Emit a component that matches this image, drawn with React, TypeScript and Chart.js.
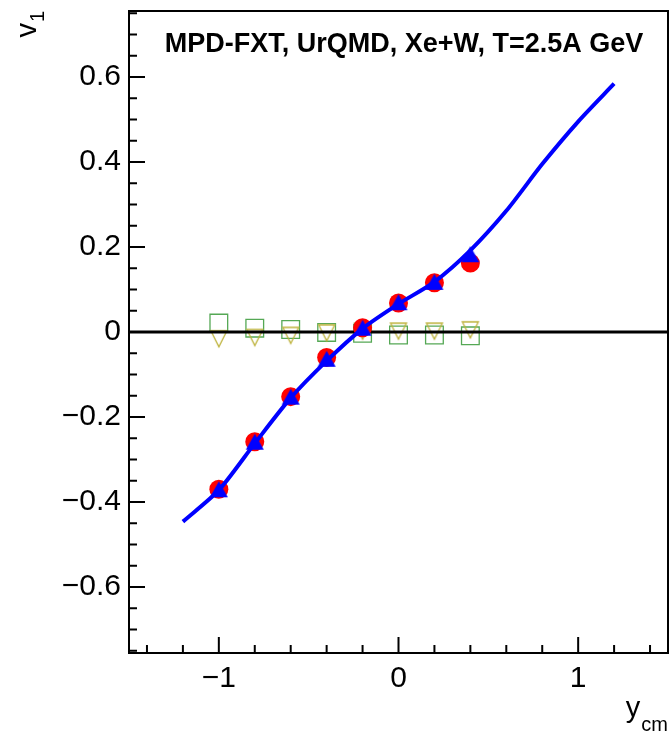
import React, { useEffect, useRef } from "react";
import { Chart, registerables } from "chart.js";
Chart.register(...registerables);

// ---- data ----
const rapidity = [-1.0, -0.8, -0.6, -0.4, -0.2, 0.0, 0.2, 0.4];
const redCircles = [-0.370, -0.258, -0.152, -0.060, 0.010, 0.068, 0.116, 0.162];
const blueTriangles = [-0.370, -0.258, -0.152, -0.063, 0.010, 0.070, 0.118, 0.183];
const greenSquares = [0.021, 0.009, 0.006, -0.001, -0.003, -0.007, -0.007, -0.009];
const yellowTriangles = [-0.016, -0.013, -0.008, -0.002, 0.002, 0.002, 0.002, 0.005];
const modelX = [-1.2, -1.0, -0.8, -0.6, -0.4, -0.2, 0.0, 0.2, 0.4, 0.6, 0.8, 1.0, 1.2];
const modelY = [-0.446, -0.372, -0.262, -0.155, -0.068, 0.008, 0.066, 0.118, 0.192, 0.285, 0.395, 0.495, 0.584];
const zeroLineX = [-1.5, 1.5];
const xTickLabels = [-1, 0, 1];
const yTickLabels = [-0.6, -0.4, -0.2, 0, 0.2, 0.4, 0.6];
const titleText = "MPD-FXT, UrQMD, Xe+W, T=2.5A GeV";

const FONT = "'Liberation Sans', Arial, Helvetica, sans-serif";
const AREA = { left: 129, right: 668, top: 11, bottom: 653 };

function fmt(v: number): string {
  const r = Math.round(v * 10) / 10;
  if (Math.abs(r) < 1e-9) return "0";
  const s = Math.abs(r).toString();
  return r < 0 ? "\u2212" + s : s;
}

function triangleMarker(w: number, h: number, color: string, filled: boolean, down: boolean) {
  const c = document.createElement("canvas");
  const pad = 3;
  c.width = w + pad * 2;
  c.height = h + pad * 2;
  const ctx = c.getContext("2d")!;
  const cx = c.width / 2;
  const cy = c.height / 2;
  ctx.beginPath();
  if (down) {
    ctx.moveTo(cx - w / 2, cy - h / 2);
    ctx.lineTo(cx + w / 2, cy - h / 2);
    ctx.lineTo(cx, cy + h / 2);
  } else {
    ctx.moveTo(cx - w / 2, cy + h / 2);
    ctx.lineTo(cx + w / 2, cy + h / 2);
    ctx.lineTo(cx, cy - h / 2);
  }
  ctx.closePath();
  if (filled) {
    ctx.fillStyle = color;
    ctx.fill();
  } else {
    ctx.strokeStyle = color;
    ctx.lineWidth = 1.3;
    ctx.stroke();
  }
  return c;
}

const framePlugin = {
  id: "rootFrame",
  afterDraw(chart: any) {
    const { ctx, chartArea } = chart;
    const xs = chart.scales.x;
    const ys = chart.scales.y;
    const { left, right, top, bottom } = chartArea;
    ctx.save();
    ctx.strokeStyle = "#000";
    ctx.lineWidth = 2;
    ctx.strokeRect(left, top, right - left, bottom - top);
    ctx.beginPath();
    for (let i = -7; i <= 7; i++) {
      const v = i * 0.2;
      const major = i % 5 === 0;
      const px = xs.getPixelForValue(v);
      ctx.moveTo(px, bottom);
      ctx.lineTo(px, bottom - (major ? 16 : 8));
    }
    for (let i = -15; i <= 15; i++) {
      const v = i * 0.05;
      const major = i % 4 === 0;
      const py = ys.getPixelForValue(v);
      if (py < top + 1 || py > bottom - 1) continue;
      ctx.moveTo(left, py);
      ctx.lineTo(left + (major ? 16 : 8), py);
    }
    ctx.stroke();

    // title
    ctx.fillStyle = "#000";
    ctx.font = `bold 27px ${FONT}`;
    ctx.textAlign = "center";
    ctx.textBaseline = "alphabetic";
    ctx.fillText(titleText, 404, 52);

    // x axis title y_cm
    ctx.textAlign = "right";
    ctx.font = `20px ${FONT}`;
    const wcm = ctx.measureText("cm").width;
    ctx.fillText("cm", 668, 731);
    ctx.font = `29px ${FONT}`;
    ctx.fillText("y", 668 - wcm - 1, 717);

    // y axis title v_1 (rotated)
    ctx.translate(36, 11);
    ctx.rotate(-Math.PI / 2);
    ctx.textAlign = "right";
    ctx.font = `20px ${FONT}`;
    const w1 = ctx.measureText("1").width;
    ctx.fillText("1", 0, 8);
    ctx.font = `29px ${FONT}`;
    ctx.fillText("v", -w1 - 1, 0);
    ctx.restore();
  },
};

const zeroPadding = (s: any) => {
  s.paddingTop = 0;
  s.paddingBottom = 0;
  s.paddingLeft = 0;
  s.paddingRight = 0;
};

export default function App() {
  const ref = useRef<HTMLCanvasElement | null>(null);
  useEffect(() => {
    document.body.style.margin = "0";
    document.body.style.overflow = "hidden";
    const canvas = ref.current;
    if (!canvas) return;
    const blueTri = triangleMarker(18, 16, "#0000ff", true, false);
    const yellowTri = triangleMarker(16, 16, "#bdb23a", false, true);
    const toPts = (ys: number[]) => rapidity.map((x, i) => ({ x, y: ys[i] }));
    const chart = new Chart(canvas, {
      type: "scatter",
      data: {
        datasets: [
          {
            label: "UrQMD model",
            data: modelX.map((x, i) => ({ x, y: modelY[i] })),
            showLine: true,
            borderColor: "#0000ff",
            borderWidth: 4,
            pointRadius: 0,
            tension: 0.25,
            fill: false,
          },
          {
            label: "blue",
            data: toPts(blueTriangles),
            pointStyle: blueTri as any,
            pointRadius: 9,
          },
          {
            label: "red",
            data: toPts(redCircles),
            pointStyle: "circle",
            pointRadius: 9.5,
            backgroundColor: "#ff0000",
            borderWidth: 0,
          },
          {
            label: "zero",
            data: zeroLineX.map((x) => ({ x, y: 0 })),
            showLine: true,
            borderColor: "#000",
            borderWidth: 3,
            pointRadius: 0,
          },
          {
            label: "yellow",
            data: toPts(yellowTriangles),
            pointStyle: yellowTri as any,
            pointRadius: 9,
          },
          {
            label: "green",
            data: toPts(greenSquares),
            pointStyle: "rect",
            pointRadius: 12.5,
            backgroundColor: "rgba(0,0,0,0)",
            borderColor: "#55a855",
            borderWidth: 1.3,
          },
        ],
      },
      options: {
        animation: false,
        responsive: false,
        devicePixelRatio: 1,
        layout: { autoPadding: false, padding: { top: AREA.top, right: 671 - AREA.right, left: 0, bottom: 0 } },
        plugins: { legend: { display: false }, tooltip: { enabled: false }, title: { display: false } },
        scales: {
          x: {
            type: "linear",
            min: -1.5,
            max: 1.5,
            afterBuildTicks: (s: any) => {
              s.ticks = xTickLabels.map((v) => ({ value: v }));
            },
            afterFit: (s: any) => {
              s.height = 733 - AREA.bottom;
              zeroPadding(s);
            },
            grid: { display: false, drawTicks: false },
            border: { display: false },
            ticks: {
              autoSkip: false,
              maxRotation: 0,
              padding: 8,
              color: "#000",
              font: { family: FONT, size: 30 },
              callback: (v: any) => fmt(Number(v)),
            },
          },
          y: {
            type: "linear",
            min: -0.755,
            max: 0.755,
            afterBuildTicks: (s: any) => {
              s.ticks = yTickLabels.map((v) => ({ value: v }));
            },
            afterFit: (s: any) => {
              s.width = AREA.left;
              zeroPadding(s);
            },
            grid: { display: false, drawTicks: false },
            border: { display: false },
            ticks: {
              autoSkip: false,
              padding: 8,
              color: "#000",
              font: { family: FONT, size: 30 },
              callback: (v: any) => fmt(Number(v)),
            },
          },
        },
      },
      plugins: [framePlugin],
    });
    return () => chart.destroy();
  }, []);
  return (
    <div style={{ width: 671, height: 733, overflow: "hidden" }}>
      <canvas ref={ref} width={671} height={733} style={{ display: "block" }} />
    </div>
  );
}
